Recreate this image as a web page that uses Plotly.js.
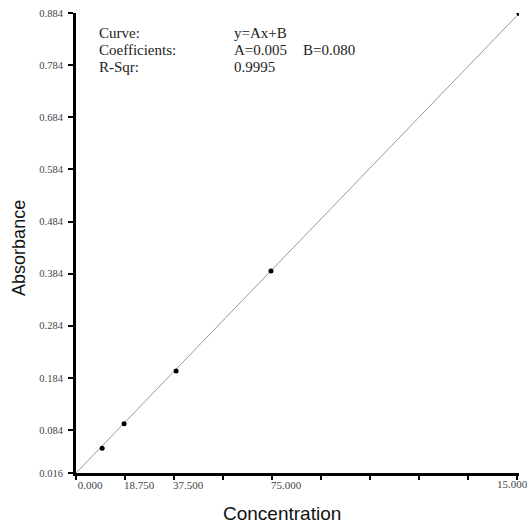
<!DOCTYPE html>
<html>
<head>
<meta charset="utf-8">
<script src="https://cdn.plot.ly/plotly-3.0.1.min.js"></script>
<style>html,body{margin:0;padding:0;background:#fff;}#chart{width:532px;height:527px;}</style>
</head>
<body>
<div id="chart"></div>
<script>
// Data
const concentration = [10.0, 18.4, 38.3, 74.6, 169.5];
const absorbance = [0.049, 0.096, 0.197, 0.389, 0.883];
const fitX = [0, 169.5];
const fitY = [0.0015, 0.883];
const xTickVals = [0, 18.75, 37.5, 56.25, 75, 93.75, 112.5, 131.25, 150, 168.75];
const xTickText = ["0.000", "18.750", "37.500", "", "75.000", "", "", "", "", "15.000"];
const yTickVals = [0.0015, 0.084, 0.184, 0.284, 0.384, 0.484, 0.584, 0.684, 0.784, 0.884];
const yTickText = ["0.016", "0.084", "0.184", "0.284", "0.384", "0.484", "0.584", "0.684", "0.784", "0.884"];
const xTitle = "Concentration";
const yTitle = "Absorbance";

const serif = "Liberation Serif, Times New Roman, serif";
const sans = "Liberation Sans, Arial, sans-serif";

const lastIdx = xTickVals.length - 1;
const shownText = xTickText.map((t, i) => i === lastIdx ? "" : t);

const traces = [
  {x: fitX, y: fitY, mode: "lines", line: {color: "#999", width: 1}, hoverinfo: "skip", showlegend: false},
  {x: concentration, y: absorbance, mode: "markers", marker: {color: "#000", size: 5}, showlegend: false}
];

const txt = (x, y, t) => ({xref: "paper", yref: "paper", x: x, y: y, xanchor: "left", yanchor: "middle",
  showarrow: false, text: t, font: {family: serif, size: 15, color: "#222"}});

const r1 = (473 - 33) / 460, r2 = (473 - 50) / 460, r3 = (473 - 67) / 460;

const layout = {
  width: 532, height: 527,
  margin: {l: 76, r: 13, t: 13, b: 54},
  paper_bgcolor: "#fff", plot_bgcolor: "#fff",
  showlegend: false,
  xaxis: {
    range: [0, 169.5], tickvals: xTickVals, ticktext: shownText,
    showgrid: false, zeroline: false, showline: true, linecolor: "#000", linewidth: 3,
    ticks: "outside", ticklen: 4, tickwidth: 2, tickcolor: "#000",
    tickfont: {family: serif, size: 11, color: "#444"},
    ticklabelshift: 14, ticklabelstandoff: -4,
    automargin: false
  },
  yaxis: {
    range: [0.0015, 0.884], tickvals: yTickVals, ticktext: yTickText,
    showgrid: false, zeroline: false, showline: true, linecolor: "#000", linewidth: 3,
    ticks: "outside", ticklen: 5, tickwidth: 2, tickcolor: "#000",
    tickfont: {family: serif, size: 10.5, color: "#444"},
    ticklabelstandoff: 3,
    automargin: false
  },
  annotations: [
    txt(0.047, r1, "Curve:"),
    txt(0.047, r2, "Coefficients:"),
    txt(0.047, r3, "R-Sqr:"),
    txt(0.352, r1, "y=Ax+B"),
    txt(0.352, r2, "A=0.005"),
    txt(0.508, r2, "B=0.080"),
    txt(0.352, r3, "0.9995"),
    {xref: "x", yref: "paper", x: xTickVals[lastIdx], y: -0.0235, xanchor: "center", yanchor: "middle", xshift: -5,
      showarrow: false, text: xTickText[lastIdx], font: {family: serif, size: 11, color: "#444"}},
    {xref: "paper", yref: "paper", x: 0.465, y: -0.087, xanchor: "center", yanchor: "middle",
      showarrow: false, text: xTitle, font: {family: sans, size: 19, color: "#111"}},
    {xref: "paper", yref: "paper", x: -0.129, y: 0.489, xanchor: "center", yanchor: "middle", textangle: -90,
      showarrow: false, text: yTitle, font: {family: sans, size: 18, color: "#111"}}
  ]
};

Plotly.newPlot("chart", traces, layout, {displayModeBar: false, staticPlot: true});
</script>
</body>
</html>
